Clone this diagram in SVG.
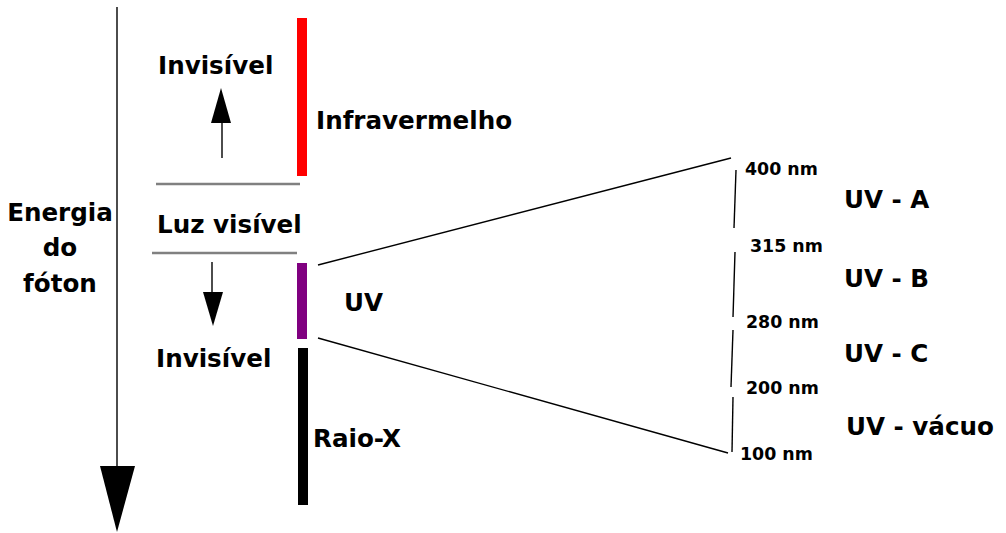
<svg xmlns="http://www.w3.org/2000/svg" width="1006" height="533" viewBox="0 0 1006 533">
<style>
.t{font-family:"DejaVu Sans","Liberation Sans",sans-serif;font-weight:bold;font-size:24.6px;fill:#000}
.s{font-family:"DejaVu Sans","Liberation Sans",sans-serif;font-weight:bold;font-size:17.4px;fill:#000}
.ln{stroke:#000;stroke-width:1.4;fill:none}
.gr{stroke:#808080;stroke-width:2.6;fill:none}
</style>
<rect width="1006" height="533" fill="#fff"/>
<g id="energia">
<line class="ln" x1="117" y1="7" x2="117" y2="467" stroke-width="1.6"/>
<polygon points="100,466 135,466 117,532" fill="#000"/>
<text class="t" x="60" y="221" text-anchor="middle">Energia</text>
<text class="t" x="60" y="256" text-anchor="middle">do</text>
<text class="t" x="60" y="292" text-anchor="middle">fóton</text>
</g>
<g id="infravermelho">
<rect x="297" y="18" width="10" height="158" fill="#ff0000"/>
<text class="t" x="316" y="129">Infravermelho</text>
</g>
<g id="invisivel-top">
<text class="t" x="158" y="74">Invisível</text>
<line class="ln" x1="222" y1="158" x2="222" y2="122" stroke-width="1.6"/>
<polygon points="211,123 231,123 221,88" fill="#000"/>
</g>
<g id="luz-visivel">
<line class="gr" x1="156" y1="184" x2="300" y2="184"/>
<text class="t" x="157" y="233">Luz visível</text>
<line class="gr" x1="152" y1="253" x2="297" y2="253"/>
</g>
<g id="invisivel-bottom">
<line class="ln" x1="212" y1="262" x2="212" y2="293" stroke-width="1.6"/>
<polygon points="203,292 223,292 213,326" fill="#000"/>
<text class="t" x="156" y="367">Invisível</text>
</g>
<g id="uv">
<rect x="297" y="263" width="10" height="76" fill="#800080"/>
<text class="t" x="344" y="311">UV</text>
</g>
<g id="raio-x">
<rect x="298" y="348" width="10" height="157" fill="#000"/>
<text class="t" x="313" y="447">Raio-X</text>
</g>
<g id="connectors">
<line class="ln" x1="318" y1="265" x2="731" y2="158"/>
<line class="ln" x1="318" y1="338" x2="728" y2="453"/>
<line class="ln" x1="736" y1="170" x2="734" y2="228"/>
<line class="ln" x1="735" y1="252" x2="733" y2="317"/>
<line class="ln" x1="733" y1="330" x2="731" y2="387"/>
<line class="ln" x1="733" y1="397" x2="732" y2="452"/>
</g>
<g id="scale">
<text class="s" x="745" y="175">400 nm</text>
<text class="s" x="750" y="252">315 nm</text>
<text class="s" x="746" y="328">280 nm</text>
<text class="s" x="746" y="394">200 nm</text>
<text class="s" x="740" y="460">100 nm</text>
</g>
<g id="uv-a"><text class="t" x="844" y="208">UV - A</text></g>
<g id="uv-b"><text class="t" x="844" y="287">UV - B</text></g>
<g id="uv-c"><text class="t" x="844" y="362">UV - C</text></g>
<g id="uv-vacuo"><text class="t" x="846" y="435">UV - vácuo</text></g>
</svg>
